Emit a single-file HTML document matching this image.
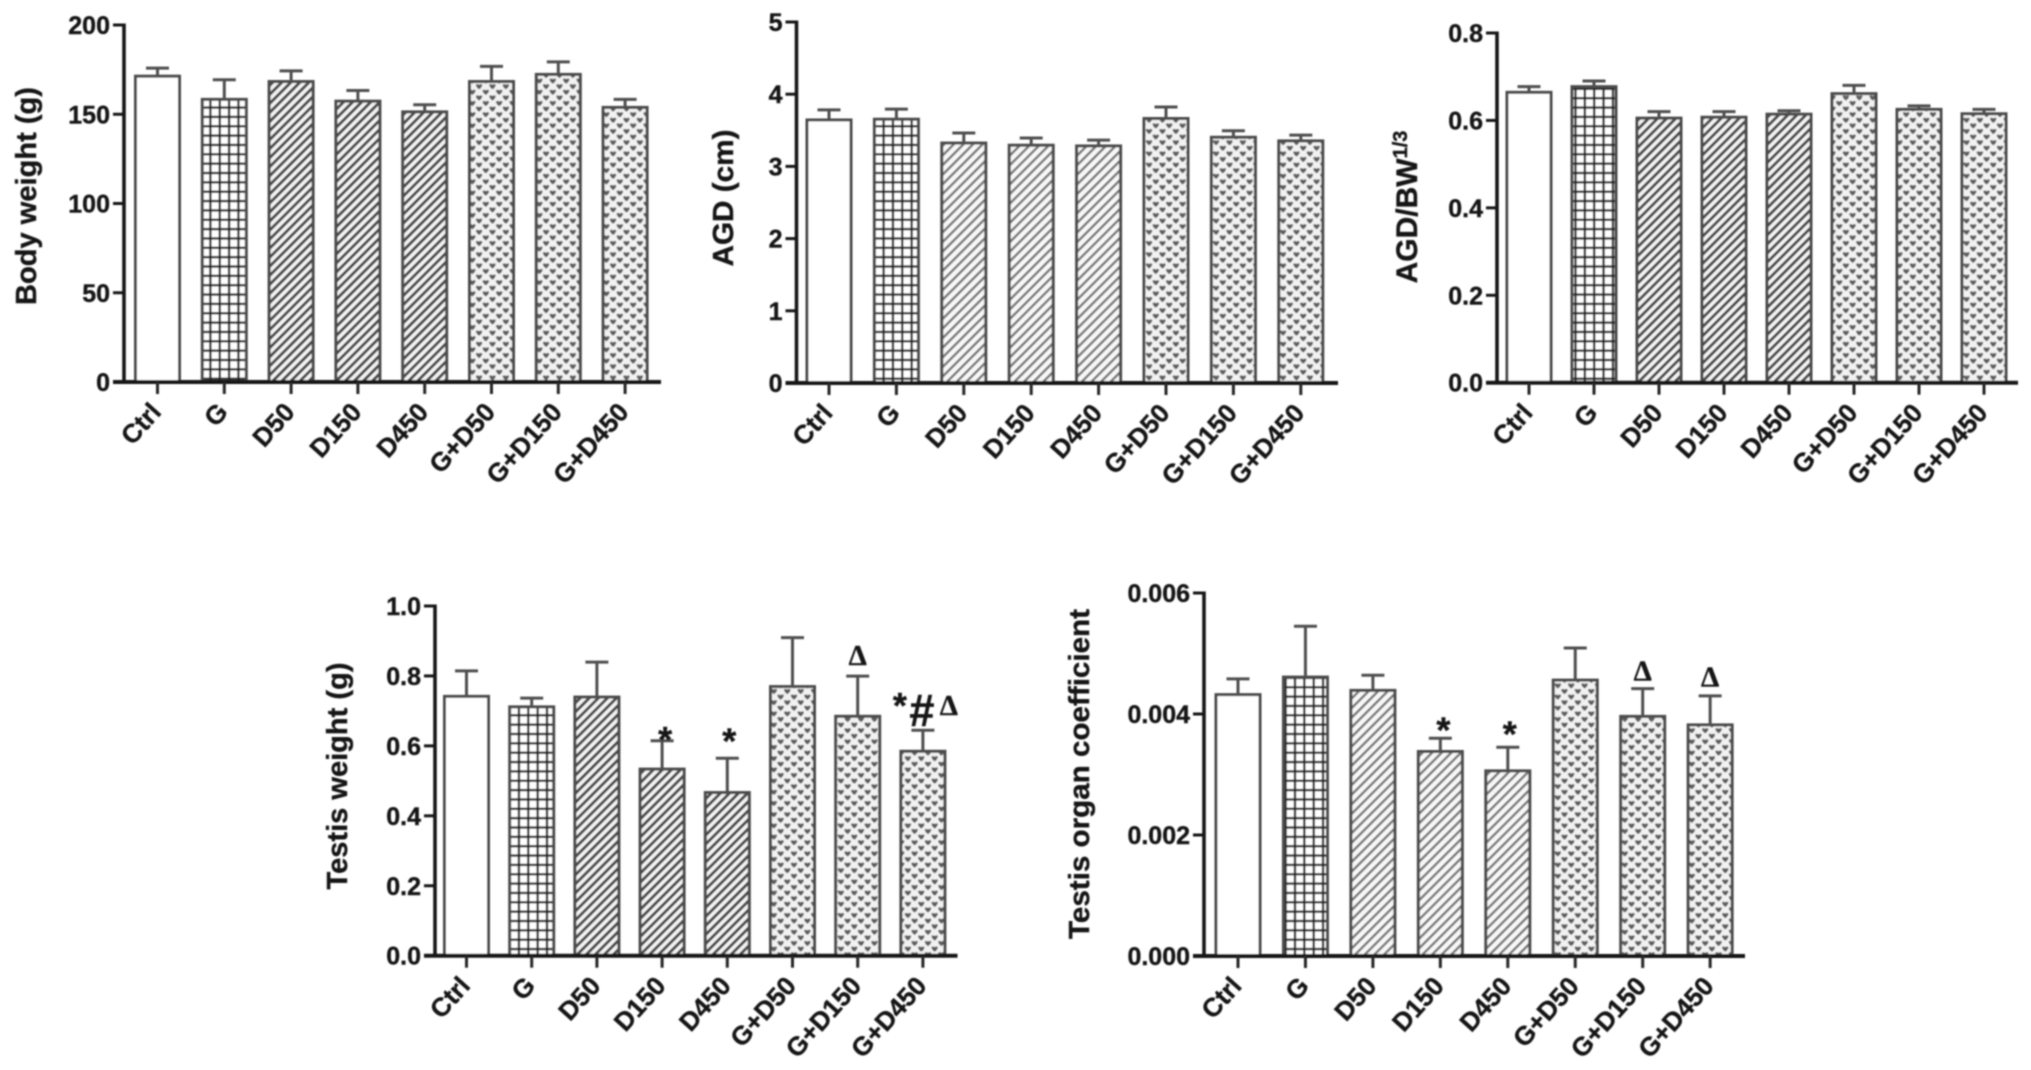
<!DOCTYPE html>
<html lang="en">
<head>
<meta charset="utf-8">
<title>Body and testis measurements by treatment group</title>
<style>
html,body{margin:0;padding:0;background:#fff;width:2031px;height:1070px;overflow:hidden}
svg{display:block}
text{font-family:"Liberation Sans",sans-serif;font-weight:bold;fill:#161616;stroke:#161616;stroke-width:0.4px}
</style>
</head>
<body>
<svg id="figure" xmlns="http://www.w3.org/2000/svg" width="2031" height="1070" viewBox="0 0 2031 1070">
  <defs>
    <filter id="soft" x="-2%" y="-2%" width="104%" height="104%"><feGaussianBlur stdDeviation="0.75"/></filter>
    <pattern id="fill-grid" patternUnits="userSpaceOnUse" width="9.35" height="9.35">
      <rect width="9.35" height="9.35" fill="#fff"/>
      <path d="M4.7 0V9.35M0 4.7H9.35" stroke="#262626" stroke-width="2.3" fill="none"/>
    </pattern>
    <pattern id="fill-hatch-dark" patternUnits="userSpaceOnUse" width="6.4" height="6.4" patternTransform="rotate(-45)">
      <rect width="6.4" height="6.4" fill="#f4f4f4"/>
      <rect x="0" y="0" width="6.4" height="3" fill="#4a4a4a"/>
    </pattern>
    <pattern id="fill-hatch-light" patternUnits="userSpaceOnUse" width="6.8" height="6.8" patternTransform="rotate(-45)">
      <rect width="6.8" height="6.8" fill="#f8f8f8"/>
      <rect x="0" y="0" width="6.8" height="2.5" fill="#777"/>
    </pattern>
    <pattern id="fill-dots" patternUnits="userSpaceOnUse" width="13.4" height="11.2">
      <rect width="13.4" height="11.2" fill="#f2f2f2"/>
      <path d="M0 0.8Q1.8 -0.6 3.4 0.8Q5 -0.6 6.8 0.8Q6 3.8 3.4 5.3Q0.8 3.8 0 0.8Z" fill="#5c5c5c"/>
      <path d="M6.7 6.4Q8.5 5 10.1 6.4Q11.7 5 13.4 6.4Q12.7 9.4 10.1 10.9Q7.5 9.4 6.7 6.4Z" fill="#5c5c5c"/>
    </pattern>
  </defs>
  <g id="chart-root" filter="url(#soft)"></g>
</svg>
<script>
// Shared categories
const categories = ['Ctrl', 'G', 'D50', 'D150', 'D450', 'G+D50', 'G+D150', 'G+D450'];

// Body weight
const bodyWeightValues = [172, 159, 169, 158, 152, 169, 173, 154.5];
const bodyWeightErrorTops = [176.5, 170, 175, 164, 156, 177.5, 180, 159];
const bodyWeightTicks = ['0', '50', '100', '150', '200'];

// Anogenital distance
const agdValues = [3.66, 3.67, 3.34, 3.31, 3.30, 3.68, 3.42, 3.37];
const agdErrorTops = [3.80, 3.81, 3.48, 3.41, 3.38, 3.84, 3.51, 3.45];
const agdTicks = ['0', '1', '2', '3', '4', '5'];

// AGD / BW^(1/3)
const agdRatioValues = [0.667, 0.680, 0.608, 0.610, 0.617, 0.664, 0.628, 0.618];
const agdRatioErrorTops = [0.680, 0.693, 0.623, 0.623, 0.625, 0.683, 0.636, 0.628];
const agdRatioTicks = ['0.0', '0.2', '0.4', '0.6', '0.8'];

// Testis weight
const testisWeightValues = [0.745, 0.715, 0.743, 0.537, 0.470, 0.773, 0.688, 0.588];
const testisWeightErrorTops = [0.818, 0.740, 0.843, 0.618, 0.568, 0.913, 0.803, 0.648];
const testisWeightTicks = ['0.0', '0.2', '0.4', '0.6', '0.8', '1.0'];
const testisWeightMarkLabels = ['*', '*', 'Δ', '*', '#', 'Δ'];
const testisWeightMarkGroups = ['D150', 'D450', 'G+D150', 'G+D450', 'G+D450', 'G+D450'];
const testisWeightMarkLevels = [0.640, 0.636, 0.858, 0.737, 0.700, 0.715];

// Testis organ coefficient
const testisCoefValues = [0.00434, 0.00463, 0.00441, 0.00340, 0.00308, 0.00458, 0.00398, 0.00384];
const testisCoefErrorTops = [0.00460, 0.00547, 0.00466, 0.00362, 0.00347, 0.00511, 0.00444, 0.00432];
const testisCoefTicks = ['0.000', '0.002', '0.004', '0.006'];
const testisCoefMarkLabels = ['*', '*', 'Δ', 'Δ'];
const testisCoefMarkGroups = ['D150', 'D450', 'G+D150', 'G+D450'];
const testisCoefMarkLevels = [0.00386, 0.00380, 0.00471, 0.00461];

const SVG_NS = 'http://www.w3.org/2000/svg';
const root = document.getElementById('chart-root');
const STROKE_INSET = 1.2;

function make(tag, attrs, parent) {
  const node = document.createElementNS(SVG_NS, tag);
  Object.keys(attrs).forEach(function (k) { node.setAttribute(k, attrs[k]); });
  parent.appendChild(node);
  return node;
}

function slug(s) {
  return s.toLowerCase().replace(/\+/g, '-plus-').replace(/[^a-z0-9-]/g, '');
}

function fillFor(index, hatch) {
  if (index === 0) return '#ffffff';
  if (index === 1) return 'url(#fill-grid)';
  if (index <= 4) return 'url(#fill-hatch-' + hatch + ')';
  return 'url(#fill-dots)';
}

const markFonts = {
  '*': { size: 36, family: '"Liberation Sans",sans-serif', lift: 0.56 },
  '#': { size: 45, family: '"Liberation Sans",sans-serif', lift: 0.34 },
  'Δ': { size: 29, family: '"Liberation Serif",serif', lift: 0.33 }
};

function drawPanel(p) {
  const panel = make('g', {}, root);
  
  

  const maxTick = parseFloat(p.ticks[p.ticks.length - 1]);
  const yScale = function (v) { return p.y0 - (v / maxTick) * (p.y0 - p.yTop); };
  const xScale = function (i) { return p.x0 + i * p.step; };

  // Bars
  p.values.forEach(function (v, i) {
    const top = yScale(v) + STROKE_INSET;
    const bar = make('rect', {
      x: xScale(i) - 22, y: top, width: 44, height: p.y0 - top,
      fill: fillFor(i, p.hatch), stroke: '#4c4c4c', 'stroke-width': 3
    }, panel);
    
    
  });

  // Error bars
  p.errorTops.forEach(function (v, i) {
    const cx = xScale(i), top = yScale(v) + STROKE_INSET, base = yScale(p.values[i]) + STROKE_INSET;
    const err = make('path', {
      d: 'M' + cx + ' ' + base + 'V' + top + 'M' + (cx - 11.5) + ' ' + top + 'H' + (cx + 11.5),
      stroke: '#505050', 'stroke-width': 3, fill: 'none'
    }, panel);
    
    
  });

  // Axes
  const yAxis = make('line', { x1: p.axisX, x2: p.axisX, y1: p.yTop - 1.5, y2: p.y0 + 1.5, stroke: '#141414', 'stroke-width': 3.6 }, panel);
  
  
  const xAxis = make('line', { x1: p.axisX - 11, x2: p.axisEnd, y1: p.y0, y2: p.y0, stroke: '#141414', 'stroke-width': 4 }, panel);
  
  

  // Y ticks
  p.ticks.forEach(function (t) {
    const y = yScale(parseFloat(t));
    const tick = make('line', { x1: p.axisX - 11, x2: p.axisX, y1: y, y2: y, stroke: '#141414', 'stroke-width': 3 }, panel);
    
    
    const label = make('text', { x: p.axisX - 14, y: y + 9, 'text-anchor': 'end', 'font-size': p.tickSize }, panel);
    label.textContent = t;
    
    
  });

  // X ticks and labels
  categories.forEach(function (c, i) {
    const x = xScale(i);
    const tick = make('line', { x1: x, x2: x, y1: p.y0, y2: p.y0 + 12, stroke: '#262626', 'stroke-width': 3 }, panel);
    
    
    const lx = x + 5, ly = p.y0 + 31;
    const label = make('text', {
      x: lx, y: ly, 'text-anchor': 'end', 'font-size': 26,
      transform: 'rotate(-48 ' + lx + ' ' + ly + ')'
    }, panel);
    label.textContent = c;
    
    
  });

  // Y axis title
  const tx = p.titleX, ty = p.titleY;
  const title = make('text', {
    x: tx, y: ty, 'text-anchor': 'middle', 'font-size': p.titleSize || 29,
    transform: 'rotate(-90 ' + tx + ' ' + ty + ')'
  }, panel);
  if (p.titleLength) {
    title.setAttribute('textLength', p.titleLength);
    title.setAttribute('lengthAdjust', 'spacingAndGlyphs');
  }
  title.textContent = p.title;
  if (p.titleSup) {
    const sup = make('tspan', { dy: -10, 'font-size': 20 }, title);
    sup.textContent = p.titleSup;
  }
  
  

  // Significance marks
  (p.markLabels || []).forEach(function (m, i) {
    const f = markFonts[m];
    const cx = xScale(categories.indexOf(p.markGroups[i])) + p.markNudge[i];
    const cy = yScale(p.markLevels[i]);
    const mark = make('text', {
      x: cx, y: cy + f.size * f.lift, 'text-anchor': 'middle', 'font-size': f.size
    }, panel);
    mark.style.fontFamily = f.family;
    mark.textContent = m;
    
    
  });
}

drawPanel({
  name: 'body-weight', values: bodyWeightValues, errorTops: bodyWeightErrorTops, ticks: bodyWeightTicks,
  axisX: 124, axisEnd: 661, yTop: 25, y0: 382, x0: 157.5, step: 66.8, hatch: 'dark', tickSize: 25,
  title: 'Body weight (g)', titleX: 36, titleY: 196, titleLength: 218
});
drawPanel({
  name: 'agd', values: agdValues, errorTops: agdErrorTops, ticks: agdTicks,
  axisX: 796.5, axisEnd: 1338, yTop: 22, y0: 383, x0: 829, step: 67.4, hatch: 'light', tickSize: 25,
  title: 'AGD (cm)', titleX: 733, titleY: 198, titleLength: 137
});
drawPanel({
  name: 'agd-bw-ratio', values: agdRatioValues, errorTops: agdRatioErrorTops, ticks: agdRatioTicks,
  axisX: 1497, axisEnd: 2018, yTop: 33, y0: 382.7, x0: 1529, step: 65, hatch: 'dark', tickSize: 25,
  title: 'AGD/BW', titleSup: '1/3', titleX: 1417, titleY: 207, titleSize: 30
});
drawPanel({
  name: 'testis-weight', values: testisWeightValues, errorTops: testisWeightErrorTops, ticks: testisWeightTicks,
  axisX: 435, axisEnd: 957.5, yTop: 606, y0: 955.7, x0: 466.5, step: 65.2, hatch: 'dark', tickSize: 25,
  title: 'Testis weight (g)', titleX: 347, titleY: 776, titleLength: 227,
  markLabels: testisWeightMarkLabels, markGroups: testisWeightMarkGroups, markLevels: testisWeightMarkLevels,
  markNudge: [3, 2, 0, -23, -1, 26]
});
drawPanel({
  name: 'testis-coefficient', values: testisCoefValues, errorTops: testisCoefErrorTops, ticks: testisCoefTicks,
  axisX: 1204, axisEnd: 1745, yTop: 593, y0: 956, x0: 1238, step: 67.45, hatch: 'light', tickSize: 25,
  title: 'Testis organ coefficient', titleX: 1089, titleY: 774, titleLength: 330,
  markLabels: testisCoefMarkLabels, markGroups: testisCoefMarkGroups, markLevels: testisCoefMarkLevels,
  markNudge: [3, 2, 0, 0]
});
</script>
</body>
</html>
